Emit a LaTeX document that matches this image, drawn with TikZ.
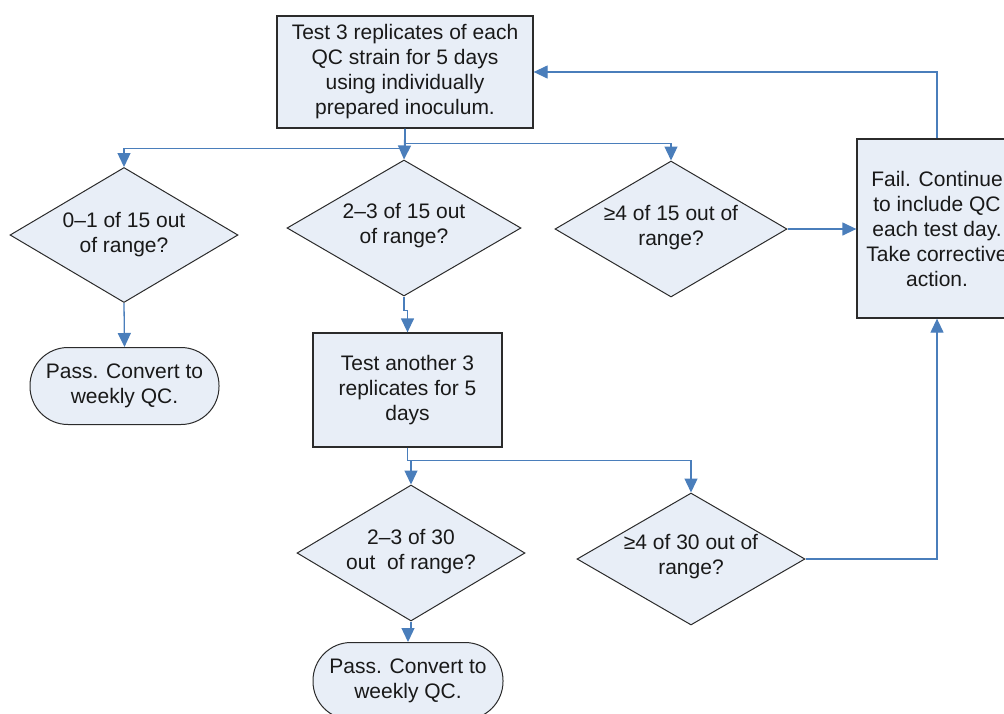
\documentclass[tikz,border=0pt]{standalone}
\usepackage{fontspec}
\setmainfont{Liberation Sans}
\usetikzlibrary{arrows.meta,shapes.geometric}
\definecolor{fillc}{HTML}{E8EEF7}
\definecolor{linec}{HTML}{4A7EBB}
\definecolor{edgec}{HTML}{2B2B2B}
\begin{document}
\begin{tikzpicture}[x=1pt,y=-1pt,
 every node/.style={font=\fontsize{21}{25}\selectfont, text=black!90},
 box/.style={draw=edgec, fill=fillc, line width=1.3pt, align=center, inner sep=0pt},
 dia/.style={draw=edgec, fill=fillc, line width=1pt, shape=diamond, inner sep=0pt},
 term/.style={draw=edgec, fill=fillc, line width=1pt, align=center, inner sep=0pt, rounded corners=38pt},
 lbl/.style={align=center, inner sep=0pt},
 conn/.style={draw=linec, line width=1.3pt, -{Triangle[width=13pt,length=14pt]}}
]
\useasboundingbox (0,0) rectangle (1004,713);
\clip (0,0) rectangle (1004,713);

\node[box, minimum width=256pt, minimum height=112pt] (top) at (405,72)
  {Test 3 replicates of each\\QC strain for 5 days\\using individually\\prepared inoculum.};

\node[dia, minimum width=228pt, minimum height=135pt] (d1) at (124,235) {};
\node[lbl] (d1t) at (124,235) {0–1 of 15 out\\of range?};

\node[dia, minimum width=234pt, minimum height=136pt] (d2) at (404,228) {};
\node[lbl] (d2t) at (404,226) {2–3 of 15 out\\of range?};

\node[dia, minimum width=232pt, minimum height=136pt] (d3) at (671,229) {};
\node[lbl] (d3t) at (671,228) {≥4 of 15 out of\\range?};

\node[term, minimum width=189pt, minimum height=77pt] (p1) at (124.5,386) {Pass. Convert to\\weekly QC.};

\node[box, minimum width=189pt, minimum height=114pt] (b2) at (407.5,390)
  {Test another 3\\replicates for 5\\days};

\node[dia, minimum width=228pt, minimum height=136pt] (d4) at (411,553) {};
\node[lbl] (d4t) at (411,552) {2–3 of 30\\out\ \ of range?};

\node[dia, minimum width=228pt, minimum height=132pt] (d5) at (691,559) {};
\node[lbl] (d5t) at (691,557) {≥4 of 30 out of\\range?};

\node[term, minimum width=190pt, minimum height=77pt] (p2) at (408,681) {Pass. Convert to\\weekly QC.};

\node[box, minimum width=160pt, minimum height=179pt] (fail) at (937,228.5)
  {Fail. Continue\\to include QC\\each test day.\\Take corrective\\action.};

\draw[conn] (top.south) -- ++(0,20) -| (d1.north);
\draw[conn] (top.south) -- ++(0,15) -| (d3.north);
\draw[conn] (top.south) -- (d2.north);
\draw[conn] (d1.south) -- (p1.north);
\draw[conn] (d2.south) -- ++(0,14) -| (b2.north);
\draw[conn] (b2.south) -- ++(0,13) -| (d4.north);
\draw[conn] (b2.south) -- ++(0,13) -| (d5.north);
\draw[conn] (d4.south) -- ++(0,8) -| (p2.north);
\draw[conn] (d3.east) -- (d3.east -| fail.west);
\draw[conn] (d5.east) -| (fail.south);
\draw[conn] (fail.north) |- (top.east);
\end{tikzpicture}
\end{document}
